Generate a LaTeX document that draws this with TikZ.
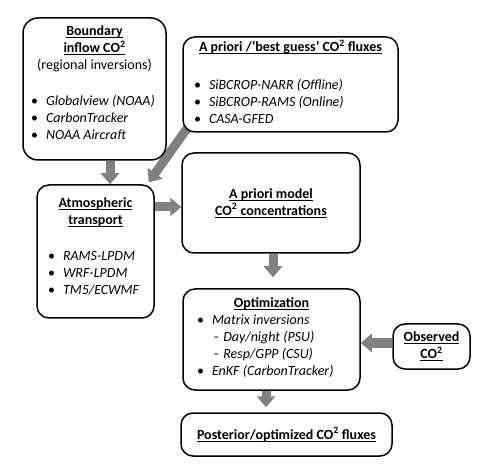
\documentclass[tikz,border=0pt]{standalone}
\usepackage{fontspec}
\setmainfont{Carlito}
\usetikzlibrary{arrows.meta,positioning,backgrounds}
\newcommand{\hd}[1]{\leavevmode\setbox0=\hbox{\bfseries #1}\rlap{\rule[-2.6pt]{\wd0}{1.1pt}}\box0}
\newcommand{\itm}[1]{\makebox[15pt][l]{\textbullet}\mbox{\textit{#1}}}
\newcommand{\sub}[1]{\hspace{17pt}-\hspace{5pt}\mbox{\textit{#1}}}
\tikzset{box/.style={draw=black,line width=1.5pt,rounded corners=12pt,fill=white,align=center,inner sep=0pt},fat/.style={line width=9pt,draw=black!50,-{Triangle[length=11pt,width=18pt]}}}

\begin{document}
\begin{tikzpicture}[x=1pt,y=-1pt,font=\fontsize{14pt}{17pt}\selectfont]
\useasboundingbox (0,0) rectangle (490,470);
\node[box,minimum width=143pt,minimum height=142pt,rounded corners=15pt] (bound) at (94.5,89) {\hd{Boundary}\\\hd{inflow CO\textsuperscript{2}}\\(regional inversions)\\[19pt]\begin{tabular}[t]{@{}p{127pt}@{}}\itm{Globalview (NOAA)}\\\itm{CarbonTracker}\\\itm{NOAA Aircraft}\\[8pt]\end{tabular}};
\node[box,minimum width=215pt,minimum height=95pt] (flux) at (290.5,84.5) {\hd{A priori /’best guess’ CO\textsuperscript{2} fluxes}\\[21pt]\begin{tabular}[t]{@{}p{193pt}@{}}\itm{SiBCROP-NARR (Offline)}\\\itm{SiBCROP-RAMS (Online)}\\\itm{CASA-GFED}\end{tabular}};
\node[box,minimum width=117pt,minimum height=133pt] (trans) at (95.5,251.5) {\hd{Atmospheric}\\\hd{transport}\\[19pt]\begin{tabular}[t]{@{}p{95pt}@{}}\itm{RAMS-LPDM}\\\itm{WRF-LPDM}\\\itm{TM5/ECWMF}\\[6pt]\end{tabular}};
\node[box,minimum width=178pt,minimum height=100pt] (model) at (271,203) {\hd{A priori model}\\\hd{CO\textsuperscript{2} concentrations}};
\node[box,minimum width=177pt,minimum height=101pt] (opt) at (271.5,339.5) {\hd{Optimization}\\\begin{tabular}[t]{@{}p{149pt}@{}}\itm{Matrix inversions}\\\sub{Day/night (PSU)}\\\sub{Resp/GPP (CSU)}\\\itm{EnKF (CarbonTracker)}\end{tabular}};
\node[box,minimum width=77pt,minimum height=45pt] (obs) at (431.5,346.5) {\hd{Observed}\\\hd{CO\textsuperscript{2}}};
\node[box,minimum width=211pt,minimum height=43pt] (post) at (286.5,434.5) {\hd{Posterior/optimized CO\textsuperscript{2} fluxes}};
% block arrows behind the boxes
\begin{scope}[on background layer]
\fill[white] (0,0) rectangle (490,470);
\draw[fat] ([xshift=15.5pt]bound.south) -- ([xshift=15.5pt]bound.south |- trans.north);
\draw[fat] ([xshift=6pt,yshift=6pt]flux.south west) -- ([xshift=-6pt,yshift=2pt]trans.north east);
\draw[fat] ([yshift=44.5pt]trans.east) -- ([yshift=44.5pt]trans.east -| model.west);
\draw[fat,shorten >=11pt] ([xshift=2pt]model.south) -- ([xshift=2pt]model.south |- opt.north);
\draw[fat] ([yshift=3.5pt]obs.west) -- ([yshift=3.5pt]obs.west -| opt.east);
\draw[fat,shorten >=5pt] ([xshift=-5.5pt]opt.south) -- ([xshift=-5.5pt]opt.south |- post.north);
\end{scope}
\end{tikzpicture}
\end{document}
